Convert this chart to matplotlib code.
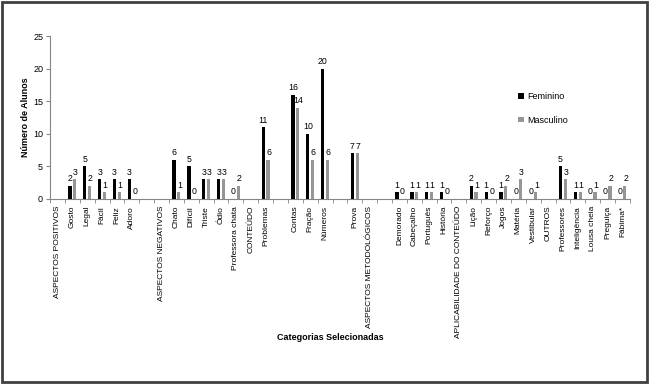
import matplotlib
matplotlib.use("Agg")
import matplotlib.pyplot as plt
import numpy as np
from matplotlib.patches import Rectangle

plt.rcParams['font.family'] = ['Liberation Sans', 'DejaVu Sans']

categories = ["ASPECTOS POSITIVOS", "Gosto", "Legal", "Fácil", "Feliz", "Adoro", "",
              "ASPECTOS NEGATIVOS", "Chato", "Difícil", "Triste", "Ódio", "Professora chata",
              "CONTEÚDO", "Problemas", "", "Contas", "Fração", "Números", "", "Prova",
              "ASPECTOS METODOLÓGICOS", "", "Demorado", "Cabeçalho", "Português", "História",
              "APLICABILIDADE DO CONTEÚDO", "Lição", "Reforço", "Jogos", "Matéria", "Vestibular",
              "OUTROS", "Professores", "Inteligência", "Lousa cheia", "Preguiça", "Fábima*"]
feminino = [None, 2, 5, 3, 3, 3, None,
            None, 6, 5, 3, 3, 0,
            None, 11, None, 16, 10, 20, None, 7,
            None, None, 1, 1, 1, 1,
            None, 2, 1, 1, 0, 0,
            None, 5, 1, 0, 0, 0]
masculino = [None, 3, 2, 1, 1, 0, None,
             None, 1, 0, 3, 3, 2,
             None, 6, None, 14, 6, 6, None, 7,
             None, None, 0, 1, 1, 0,
             None, 1, 0, 2, 3, 1,
             None, 3, 1, 1, 2, 2]

fig = plt.figure(figsize=(6.5, 3.84), dpi=100)
ax = fig.add_axes([0.077, 0.482, 0.892, 0.424])

x = np.arange(len(categories))
w = 0.22
off = 0.16
fv = np.array([np.nan if v is None else v for v in feminino], dtype=float)
mv = np.array([np.nan if v is None else v for v in masculino], dtype=float)
ax.bar(x - off, np.nan_to_num(fv), w, color="#000000", label="Feminino", zorder=3)
ax.bar(x + off, np.nan_to_num(mv), w, color="#969696", label="Masculino", zorder=3)

for i in range(len(categories)):
    if not np.isnan(fv[i]):
        ax.text(x[i] - off, fv[i] + 0.4, f"{int(fv[i])}", ha="center", va="bottom", fontsize=6.3)
    if not np.isnan(mv[i]):
        ax.text(x[i] + off + 0.05, mv[i] + 0.4, f"{int(mv[i])}", ha="center", va="bottom", fontsize=6.3)

ax.set_xlim(-0.5, len(categories) - 0.5)
ax.set_ylim(0, 25)
ax.set_yticks([0, 5, 10, 15, 20, 25])
ax.tick_params(axis="y", labelsize=6.5, length=3, color="#868686", pad=2)
ax.set_xticks(x)
ax.set_xticklabels(categories, rotation=90, fontsize=6)
ax.tick_params(axis="x", length=0, pad=5)
ax.set_xticks(np.arange(-0.5, len(categories), 1), minor=True)
ax.tick_params(axis="x", which="minor", length=3, color="#868686")

for s in ["top", "right"]:
    ax.spines[s].set_visible(False)
for s in ["left", "bottom"]:
    ax.spines[s].set_color("#868686")
    ax.spines[s].set_linewidth(0.8)

ax.set_ylabel("Número de Alunos", fontsize=6.5, fontweight="bold", labelpad=2)
fig.text(0.508, 1 - 337 / 384, "Categorias Selecionadas", ha="center", va="center",
         fontsize=6.5, fontweight="bold")

leg = fig.legend(loc="upper left", bbox_to_anchor=(0.785, 0.781), frameon=False,
                 fontsize=6.5, handlelength=0.6, handleheight=0.6, labelspacing=1.6,
                 handletextpad=0.4)

fig.patches.append(Rectangle((0.003, 0.004), 0.993, 0.992, transform=fig.transFigure,
                             fill=False, edgecolor="#404040", linewidth=2))

fig.savefig("out.png", dpi=100)
